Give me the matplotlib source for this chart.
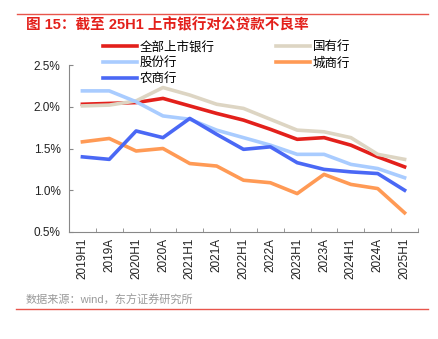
import numpy as np
import matplotlib.pyplot as plt
from matplotlib.lines import Line2D

plt.rcParams['font.family'] = ['Liberation Sans', 'Noto Sans CJK SC', 'DejaVu Sans']

periods = ['2019H1', '2019A', '2020H1', '2020A', '2021H1', '2021A', '2022H1',
           '2022A', '2023H1', '2023A', '2024H1', '2024A', '2025H1']

all_listed = [2.03, 2.04, 2.05, 2.10, 2.01, 1.92, 1.84, 1.73, 1.61, 1.63, 1.54, 1.40, 1.28]
state_owned = [2.01, 2.02, 2.07, 2.23, 2.14, 2.03, 1.98, 1.85, 1.72, 1.70, 1.63, 1.43, 1.37]
joint_stock = [2.19, 2.19, 2.06, 1.89, 1.85, 1.72, 1.63, 1.54, 1.43, 1.43, 1.31, 1.26, 1.15]
city_comm = [1.58, 1.62, 1.47, 1.50, 1.32, 1.29, 1.12, 1.09, 0.96, 1.19, 1.07, 1.02, 0.73]
rural_comm = [1.40, 1.37, 1.71, 1.63, 1.86, 1.67, 1.49, 1.52, 1.33, 1.25, 1.22, 1.20, 1.00]

series = [
    ('全部上市银行', all_listed, '#E3201B'),
    ('国有行', state_owned, '#DDD5C3'),
    ('股份行', joint_stock, '#A9CCFF'),
    ('城商行', city_comm, '#FF9A55'),
    ('农商行', rural_comm, '#4A68F5'),
]

fig = plt.figure(figsize=(4.38, 3.39), dpi=100)
ax = fig.add_axes([69/438, 1-232/339, (418-69)/438, (232-65)/339])

x = np.arange(len(periods))
handles = {}
for name, vals, col in series:
    ln, = ax.plot(x, vals, color=col, lw=2.6, solid_joinstyle='round')
    handles[name] = ln

ax.set_xlim(-0.5, len(periods) - 0.5)
ax.set_ylim(0.5, 2.5)
ax.set_yticks([0.5, 1.0, 1.5, 2.0, 2.5])
ax.set_yticklabels(['%.1f%%' % v for v in [0.5, 1.0, 1.5, 2.0, 2.5]])
ax.set_xticks(x)
ax.set_xticklabels(periods, rotation=90)
ax.set_xticks(np.arange(-0.5, len(periods)), minor=True)
ax.tick_params(axis='x', which='major', length=0, pad=4, labelsize=8.5, colors='#222222')
ax.tick_params(axis='x', which='minor', length=3, direction='in', color='#888888')
ax.tick_params(axis='y', length=3, direction='in', color='#888888', labelsize=8.5,
               labelcolor='#222222', pad=6)
for s in ['top', 'right']:
    ax.spines[s].set_visible(False)
for s in ['left', 'bottom']:
    ax.spines[s].set_color('#888888')
    ax.spines[s].set_linewidth(0.8)

order = ['全部上市银行', '股份行', '农商行', '国有行', '城商行']
fig.legend([handles[n] for n in order], order, loc='upper left',
           bbox_to_anchor=(103/438, 1-41/339), ncol=2, frameon=False,
           fontsize=9, handlelength=2.7, handletextpad=0.25, columnspacing=4.9,
           labelspacing=0.32, borderpad=0, borderaxespad=0)

# title and source with red rules
fig.add_artist(Line2D([17/438, 428/438], [1-13.5/339, 1-13.5/339], color='#E8554C', lw=1))
fig.text(26/438, 1-25/339, '图 15：截至 25H1 上市银行对公贷款不良率', color='#E3201B',
         fontsize=10.5, fontweight='bold', va='center', ha='left')
fig.text(26/438, 1-300/339, '数据来源：wind，东方证券研究所', color='#9A9A9A',
         fontsize=8, va='center', ha='left')
fig.add_artist(Line2D([16/438, 428/438], [1-309/339, 1-309/339], color='#E8554C', lw=1))

fig.savefig('out.png', dpi=100)
